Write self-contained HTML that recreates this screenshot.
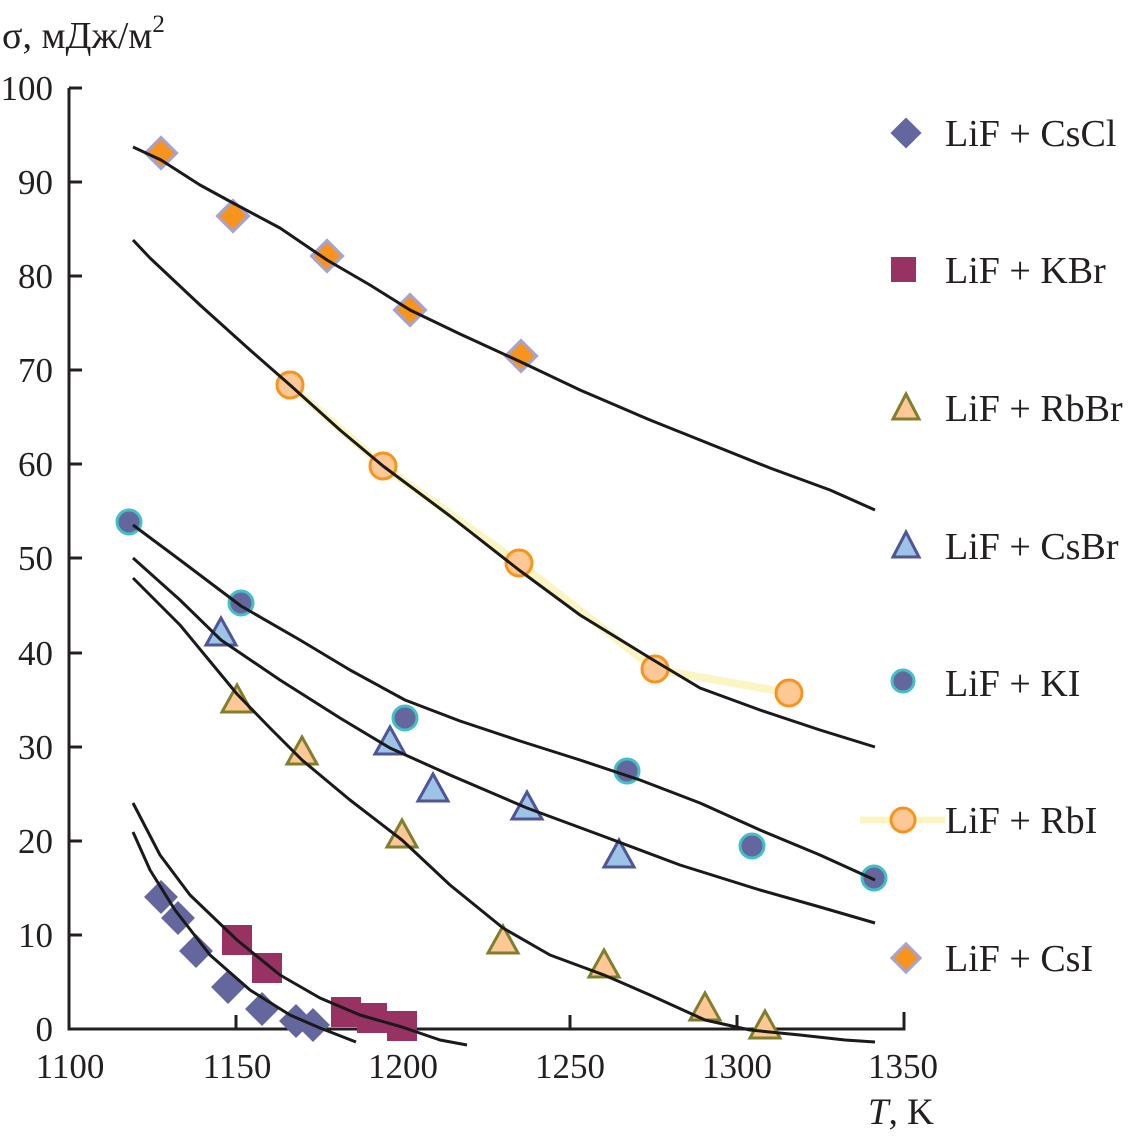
<!DOCTYPE html>
<html><head><meta charset="utf-8"><style>body{margin:0;background:#fff}svg{display:block}</style></head><body>
<svg width="1128" height="1137" viewBox="0 0 1128 1137" xmlns="http://www.w3.org/2000/svg" style="font-family:'Liberation Serif',serif" fill="#231f20">
<g stroke="#231f20" stroke-width="3" fill="none">
<path d="M69,88 V1029 H904 V1012"/>
<path d="M69,88 H82 M69,182 H82 M69,276 H82 M69,370 H82 M69,464 H82 M69,558 H82 M69,653 H82 M69,747 H82 M69,841 H82 M69,935 H82"/>
<path d="M236,1029 V1015 M403,1029 V1015 M570,1029 V1015 M737,1029 V1015"/>
</g>
<g font-size="35" text-anchor="end">
<text x="53" y="100">100</text><text x="53" y="194">90</text><text x="53" y="288">80</text><text x="53" y="382">70</text><text x="53" y="476">60</text><text x="53" y="570">50</text><text x="53" y="665">40</text><text x="53" y="759">30</text><text x="53" y="853">20</text><text x="53" y="947">10</text><text x="53" y="1041">0</text>
</g>
<g font-size="35" text-anchor="middle">
<text x="70" y="1078">1100</text><text x="237" y="1078">1150</text><text x="403" y="1078">1200</text><text x="570" y="1078">1250</text><text x="737" y="1078">1300</text><text x="903" y="1078">1350</text>
</g>
<text x="2" y="48" font-size="38">σ, мДж/м<tspan font-size="25" dy="-16">2</tspan></text>
<text x="868" y="1124" font-size="37"><tspan font-style="italic">T</tspan>, K</text>
<polyline points="290,385 383,466 519,563 655,669 789,693" fill="none" stroke="#fbf5c4" stroke-width="8"/>
<g fill="#64669e">
<rect x="-12" y="-12" width="24" height="24" transform="translate(161,897) rotate(45)"/>
<rect x="-12" y="-12" width="24" height="24" transform="translate(178,918) rotate(45)"/>
<rect x="-12" y="-12" width="24" height="24" transform="translate(196,951) rotate(45)"/>
<rect x="-12" y="-12" width="24" height="24" transform="translate(228,987) rotate(45)"/>
<rect x="-12" y="-12" width="24" height="24" transform="translate(262,1009) rotate(45)"/>
<rect x="-12" y="-12" width="24" height="24" transform="translate(296,1021) rotate(45)"/>
<rect x="-12" y="-12" width="24" height="24" transform="translate(313,1025) rotate(45)"/>
<rect x="-11" y="-11" width="22" height="22" transform="translate(906,133) rotate(45)"/>
</g>
<g fill="#983263">
<rect x="222" y="925" width="30" height="30"/><rect x="252" y="953" width="30" height="30"/>
<rect x="331" y="997" width="30" height="30"/><rect x="357" y="1003" width="30" height="30"/><rect x="387" y="1011" width="30" height="30"/>
<rect x="891" y="257" width="25" height="25"/>
</g>
<g fill="#fdc896" stroke="#7f7f2e" stroke-width="3">
<path d="M237,685 l15,27 h-30z"/><path d="M302,737 l15,27 h-30z"/><path d="M402,820 l15,27 h-30z"/><path d="M503,926 l15,27 h-30z"/><path d="M604,950 l15,27 h-30z"/><path d="M705,993 l15,27 h-30z"/><path d="M765,1011 l15,27 h-30z"/>
<path d="M906,394 l13,25 h-26z"/>
</g>
<g fill="#9dc3e6" stroke="#4f5597" stroke-width="3">
<path d="M221,618 l15,27 h-30z"/><path d="M390,727 l15,27 h-30z"/><path d="M433,774 l15,27 h-30z"/><path d="M527,792 l15,27 h-30z"/><path d="M619,840 l15,27 h-30z"/>
<path d="M906,532 l13,25 h-26z"/>
</g>
<g fill="#64669e" stroke="#41c0c6" stroke-width="3">
<circle cx="129" cy="522" r="12"/><circle cx="241" cy="603" r="12"/><circle cx="405" cy="718" r="12"/><circle cx="627" cy="771" r="12"/><circle cx="752" cy="846" r="12"/><circle cx="874" cy="878" r="12"/>
<circle cx="903" cy="681" r="11"/>
</g>
<line x1="860" y1="820" x2="945" y2="820" stroke="#fbf5c4" stroke-width="7"/>
<g fill="#fdc896" stroke="#f7941d" stroke-width="3">
<circle cx="290" cy="385" r="13"/><circle cx="383" cy="466" r="13"/><circle cx="519" cy="563" r="13"/><circle cx="655" cy="669" r="13"/><circle cx="789" cy="693" r="13"/>
<circle cx="903" cy="820" r="12"/>
</g>
<g fill="#f7941d" stroke="#a3a3d6" stroke-width="3">
<rect x="-11" y="-11" width="22" height="22" transform="translate(161,153) rotate(45)"/>
<rect x="-11" y="-11" width="22" height="22" transform="translate(233,216) rotate(45)"/>
<rect x="-11" y="-11" width="22" height="22" transform="translate(327,256) rotate(45)"/>
<rect x="-11" y="-11" width="22" height="22" transform="translate(410,310) rotate(45)"/>
<rect x="-11" y="-11" width="22" height="22" transform="translate(521,356) rotate(45)"/>
<rect x="-10" y="-10" width="20" height="20" transform="translate(906,958) rotate(45)"/>
</g>
<g fill="none" stroke="#1a1a1a" stroke-width="3" stroke-linejoin="round">
<polyline points="133,147 161,160 200,185 233,203 280,228 327,260 370,285 410,310 460,334 521,362 580,390 650,420 700,440 770,468 830,490 875,510"/>
<polyline points="133,240 150,258 200,305 250,350 290,385 340,430 383,466 450,516 519,570 580,615 650,658 700,688 760,710 820,730 875,747"/>
<polyline points="133,525 180,560 241,606 300,640 350,670 405,700 460,721 520,741 580,760 640,780 700,803 760,830 820,855 875,880"/>
<polyline points="133,558 180,600 221,640 280,680 340,718 390,748 450,775 527,808 600,835 680,865 760,890 820,907 875,923"/>
<polyline points="133,578 180,625 237,694 270,728 302,760 350,800 402,840 450,885 503,928 550,955 604,975 650,995 705,1020 750,1030 800,1035 845,1040 875,1042"/>
<polyline points="133,803 160,855 190,895 237,940 280,975 320,998 360,1015 402,1027 440,1040 467,1045"/>
<polyline points="133,832 150,870 175,910 210,955 250,990 290,1015 320,1028 356,1042"/>
</g>
<g font-size="38">
<text x="945" y="146">LiF + CsCl</text>
<text x="945" y="283">LiF + KBr</text>
<text x="945" y="421">LiF + RbBr</text>
<text x="945" y="559">LiF + CsBr</text>
<text x="945" y="696">LiF + KI</text>
<text x="945" y="833">LiF + RbI</text>
<text x="945" y="971">LiF + CsI</text>
</g>
</svg>
</body></html>
